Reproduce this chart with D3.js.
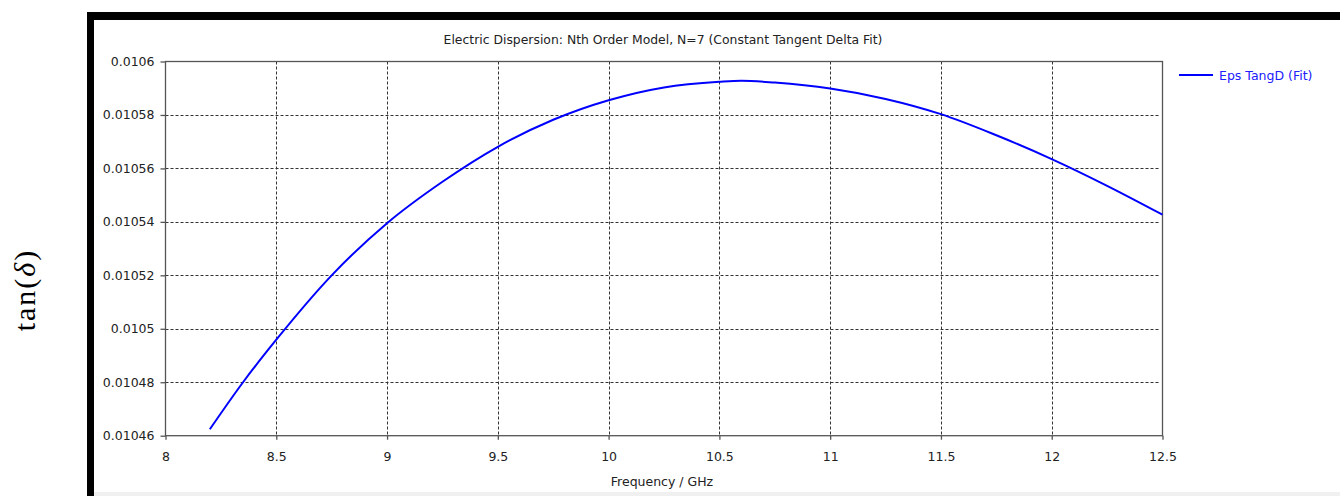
<!DOCTYPE html>
<html>
<head>
<meta charset="utf-8">
<script src="https://cdn.jsdelivr.net/npm/d3@7/dist/d3.min.js"></script>
<style>
  html, body { margin: 0; padding: 0; background: #fff; }
  svg { display: block; }
  .tick-label { font-family: "DejaVu Sans", sans-serif; fill: #222; }
</style>
</head>
<body>
<svg id="chart" width="1340" height="496"></svg>
<script>
// Fitted loss tangent (Nth order model, N=7) over the measured band
const freqGHz = [8.2, 8.35, 8.5, 8.75, 9.0, 9.25, 9.5, 9.75, 10.0, 10.25, 10.5, 10.6, 10.75, 11.0, 11.25, 11.5, 11.75, 12.0, 12.25, 12.5];
const tanDelta = [0.0104624, 0.0104800, 0.0104959, 0.0105200, 0.0105395, 0.0105550, 0.0105681, 0.0105782, 0.0105855, 0.0105903, 0.0105924, 0.0105928, 0.0105921, 0.0105899, 0.0105860, 0.0105803, 0.0105724, 0.0105635, 0.0105535, 0.0105427];

const xTicks = [8, 8.5, 9, 9.5, 10, 10.5, 11, 11.5, 12, 12.5];
const xTickLabels = ["8", "8.5", "9", "9.5", "10", "10.5", "11", "11.5", "12", "12.5"];
const yTicks = [0.01046, 0.01048, 0.0105, 0.01052, 0.01054, 0.01056, 0.01058, 0.0106];
const yTickLabels = ["0.01046", "0.01048", "0.0105", "0.01052", "0.01054", "0.01056", "0.01058", "0.0106"];

const titleText = "Electric Dispersion: Nth Order Model, N=7 (Constant Tangent Delta Fit)";
const xAxisTitle = "Frequency / GHz";
const seriesName = "Eps TangD (Fit)";

const svg = d3.select("#chart");
const W = 1340, H = 496;

// window frame: thick black border on the left and top, light strip at the bottom
svg.append("rect").attr("x", 0).attr("y", 0).attr("width", W).attr("height", H).attr("fill", "#fff");
svg.append("rect").attr("x", 87).attr("y", 12).attr("width", W - 87).attr("height", H - 12).attr("fill", "#000");
svg.append("rect").attr("x", 94).attr("y", 20).attr("width", W - 94).attr("height", H - 20).attr("fill", "#fff");
svg.append("rect").attr("x", 94).attr("y", 492).attr("width", W - 94).attr("height", 4).attr("fill", "#f0f0f0");

const plot = { left: 165.5, right: 1162.5, top: 61.5, bottom: 435.7 };

const x = d3.scaleLinear().domain([8, 12.5]).range([plot.left, plot.right]);
const y = d3.scaleLinear().domain([0.01046, 0.0106]).range([plot.bottom, plot.top]);

// grid
const grid = svg.append("g").attr("stroke", "#333").attr("stroke-width", 1).attr("stroke-dasharray", "3,2");
grid.selectAll("line.v").data(xTicks.slice(1, -1)).join("line")
  .attr("x1", d => Math.round(x(d)) + 0.5).attr("x2", d => Math.round(x(d)) + 0.5)
  .attr("y1", plot.top).attr("y2", plot.bottom);
grid.selectAll("line.h").data(yTicks.slice(1, -1)).join("line")
  .attr("y1", d => Math.round(y(d)) + 0.5).attr("y2", d => Math.round(y(d)) + 0.5)
  .attr("x1", plot.left).attr("x2", plot.right - 3);

// axes
const xAxis = d3.axisBottom(x).tickValues(xTicks).tickFormat((d, i) => xTickLabels[i]).tickSize(4).tickPadding(12);
const yAxis = d3.axisLeft(y).tickValues(yTicks).tickFormat((d, i) => yTickLabels[i]).tickSize(5).tickPadding(6);

const gx = svg.append("g").attr("transform", `translate(0,${plot.bottom})`).call(xAxis);
const gy = svg.append("g").attr("transform", `translate(${plot.left},0)`).call(yAxis);
[gx, gy].forEach(g => {
  g.select(".domain").remove();
  g.selectAll(".tick line").attr("stroke", "#555").attr("stroke-width", 1.3);
  g.selectAll(".tick text").attr("class", "tick-label").attr("font-size", 12.5).attr("fill", "#222");
});

// plot box
svg.append("rect")
  .attr("x", plot.left).attr("y", plot.top)
  .attr("width", plot.right - plot.left).attr("height", plot.bottom - plot.top)
  .attr("fill", "none").attr("stroke", "#555").attr("stroke-width", 1.3);

// curve
const line = d3.line().x((d, i) => x(freqGHz[i])).y(d => y(d)).curve(d3.curveMonotoneX);
svg.append("path").datum(tanDelta)
  .attr("d", line).attr("fill", "none").attr("stroke", "#0000ff").attr("stroke-width", 2);

// title
svg.append("text").attr("x", 663).attr("y", 44).attr("text-anchor", "middle")
  .attr("font-family", "DejaVu Sans, sans-serif").attr("font-size", 12.4).attr("fill", "#222")
  .text(titleText);

// x axis title
svg.append("text").attr("x", 662).attr("y", 486).attr("text-anchor", "middle")
  .attr("font-family", "DejaVu Sans, sans-serif").attr("font-size", 12.5).attr("fill", "#222")
  .text(xAxisTitle);

// legend
svg.append("line").attr("x1", 1179).attr("x2", 1213).attr("y1", 75).attr("y2", 75)
  .attr("stroke", "#0000ff").attr("stroke-width", 2);
svg.append("text").attr("x", 1219).attr("y", 80)
  .attr("font-family", "DejaVu Sans, sans-serif").attr("font-size", 12.5).attr("fill", "#2020ff")
  .text(seriesName);

// y axis title
const yt = svg.append("text").attr("transform", "translate(35,290) rotate(-90)")
  .attr("text-anchor", "middle").attr("font-family", "Liberation Serif, serif").attr("font-size", 30)
  .attr("letter-spacing", 2).attr("fill", "#000");
yt.append("tspan").text("tan(");
yt.append("tspan").attr("font-style", "italic").text("δ");
yt.append("tspan").text(")");
</script>
</body>
</html>
